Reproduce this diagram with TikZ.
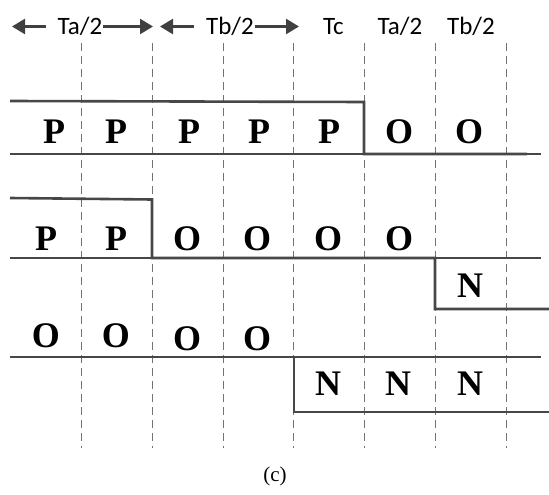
\documentclass[tikz,border=0pt]{standalone}
\usepackage{fontspec}
\setmainfont{Liberation Serif}
\newfontfamily\hdrfont{Carlito}
\newfontfamily\letfont{Liberation Serif}
\usetikzlibrary{arrows.meta,calc}
\begin{document}
\begin{tikzpicture}[x=1pt,y=-1pt,
  thinline/.style={line width=1.8pt,draw=black!72},
  thickline/.style={line width=2.6pt,draw=black!72,line join=miter},
  gridline/.style={line width=0.9pt,draw=black!55,dash pattern=on 8pt off 5pt},
  lett/.style={font=\letfont\bfseries\fontsize{36}{36}\selectfont,inner sep=0pt,anchor=base},
  hd/.style={font=\hdrfont\fontsize{25}{25}\selectfont,inner sep=0pt,anchor=base},
  harrow/.style={line width=2.5pt,draw=black!75,-{Triangle[length=13pt,width=15pt]}}]
\useasboundingbox (0,0) rectangle (549,495);
% dashed time grid
\foreach \x [count=\i] in {81,152,223,293.5,364,435,506}{
  \coordinate (gt\i) at (\x,43);
  \coordinate (gb\i) at (\x,448);
  \draw[gridline] (gt\i) -- (gb\i);
}
% header
\node[hd] (ha) at (80,35) {Ta/2};
\node[hd] (hb) at (230,35) {Tb/2};
\node[hd] (hc) at (333.5,35) {Tc};
\node[hd] (hd2) at (400,35) {Ta/2};
\node[hd] (he) at (471,35) {Tb/2};
\coordinate (a1) at (12,26.5);
\coordinate (a2) at (153,26.5);
\coordinate (b1) at (160,26.5);
\coordinate (b2) at (299,26.5);
\draw[harrow] ($(ha.west |- a1)+(-12,0)$) -- (a1);
\draw[harrow] ($(ha.east |- a2)+(1,0)$) -- (a2);
\draw[harrow] ($(hb.west |- b1)+(-12,0)$) -- (b1);
\draw[harrow] ($(hb.east |- b2)+(1,0)$) -- (b2);
% row 1
\coordinate (r1a) at (10,101);
\coordinate (r1b) at (364,102);
\coordinate (r1c) at (364,154);
\coordinate (r1d) at (527,154);
\coordinate (r1l) at (10,154);
\coordinate (r1r) at (541,154);
\draw[thinline] (r1l) -- (r1r);
\draw[thickline] (r1a) -- (r1b) -- (r1c) -- (r1d);
\foreach \x/\t [count=\i] in {54/P,116/P,189/P,259/P,329/P,399/O,469/O}
  \node[lett] (l1\i) at (\x,143) {\t};
% row 2
\coordinate (r2a) at (10,198);
\coordinate (r2b) at (152,199.5);
\coordinate (r2c) at (152,258);
\coordinate (r2d) at (435,258);
\coordinate (r2e) at (435,309);
\coordinate (r2f) at (549,309);
\coordinate (r2l) at (10,258);
\coordinate (r2r) at (541,258);
\draw[thinline] (r2l) -- (r2r);
\draw[thickline] (r2a) -- (r2b) -- (r2c) -- (r2d) -- (r2e) -- (r2f);
\foreach \x/\t [count=\i] in {46/P,116/P,187/O,257/O,328/O,399/O}
  \node[lett] (l2\i) at (\x,250) {\t};
\node[lett] (l27) at (470,297) {N};
% row 3
\coordinate (r3a) at (10,357);
\coordinate (r3b) at (294,357);
\coordinate (r3c) at (294,412);
\coordinate (r3d) at (549,412);
\coordinate (r3r) at (541,357);
\draw[thinline] (r3b) -- (r3r);
\draw[thickline] (r3a) -- (r3b) -- (r3c) -- (r3d);
\node[lett] (l31) at (46,347) {O};
\node[lett] (l32) at (116,347) {O};
\node[lett] (l33) at (187,350) {O};
\node[lett] (l34) at (257,350) {O};
\node[lett] (l35) at (328,395) {N};
\node[lett] (l36) at (398,395) {N};
\node[lett] (l37) at (470,395) {N};
% caption
\node[font=\letfont\fontsize{21}{21}\selectfont,inner sep=0pt] (cap) at (275,476) {(c)};
\end{tikzpicture}
\end{document}
